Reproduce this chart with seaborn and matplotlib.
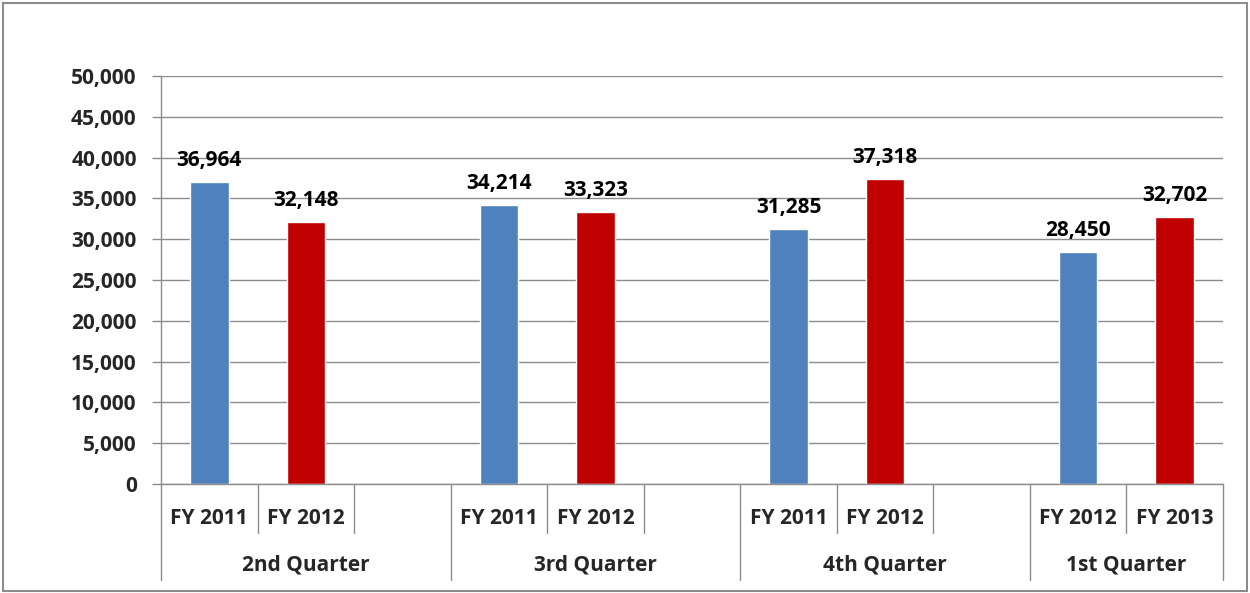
import matplotlib
matplotlib.use("Agg")
import matplotlib.pyplot as plt
import pandas as pd
import seaborn as sns
from matplotlib.patches import Rectangle

quarters = ["2nd Quarter", "3rd Quarter", "4th Quarter", "1st Quarter"]
years_prev = ["FY 2011", "FY 2011", "FY 2011", "FY 2012"]
years_curr = ["FY 2012", "FY 2012", "FY 2012", "FY 2013"]
values_prev = [36964, 34214, 31285, 28450]
values_curr = [32148, 33323, 37318, 32702]

BLUE = "#4F81BD"
RED = "#C00000"
GRID = "#8C8C8C"
FS = 15

# one slot per bar, plus an empty slot after each quarter except the last
order = []
rows = []
for i, q in enumerate(quarters):
    order += [f"{q}|{years_prev[i]}", f"{q}|{years_curr[i]}"]
    rows.append({"slot": order[-2], "value": values_prev[i], "series": "prev"})
    rows.append({"slot": order[-1], "value": values_curr[i], "series": "curr"})
    if i < len(quarters) - 1:
        order.append(f"{q}|gap")
df = pd.DataFrame(rows)

sns.set_style("white")
plt.rcParams["font.family"] = ["Open Sans", "DejaVu Sans"]
plt.rcParams["font.weight"] = "bold"

fig = plt.figure(figsize=(12.5, 5.93), dpi=100)
ax = fig.add_axes([161 / 1250, 1 - 484 / 593, 1062 / 1250, 408 / 593])

sns.barplot(data=df, x="slot", y="value", hue="series", order=order,
            palette={"prev": BLUE, "curr": RED}, dodge=False, width=0.4,
            legend=False, ax=ax, saturation=1)

for c in ax.containers:
    ax.bar_label(c, labels=[f"{v:,.0f}" for v in c.datavalues], padding=8,
                 fontsize=FS, fontweight="bold", color="black")

ax.set_xlim(-0.5, len(order) - 0.5)
ax.set_ylim(0, 50000)
ax.set_yticks(range(0, 50001, 5000))
ax.set_yticklabels([f"{v:,}" for v in range(0, 50001, 5000)], fontsize=FS,
                   fontweight="bold")
ax.yaxis.grid(True, color=GRID, linewidth=1)
ax.set_axisbelow(True)
ax.tick_params(axis="y", length=6.5, width=1, color=GRID, direction="out",
               pad=11, left=True)
ax.set_xticks([])
ax.set_xlabel("")
ax.set_ylabel("")
for s in ["top", "right"]:
    ax.spines[s].set_visible(False)
for s in ["left", "bottom"]:
    ax.spines[s].set_color(GRID)
    ax.spines[s].set_linewidth(1)

# two-level category axis drawn below the plot
tr = ax.get_xaxis_transform()
short_y = -(533 - 484) / 408
long_y = -(580 - 484) / 408
sub_y = -(518 - 484) / 408
grp_y = -(565 - 484) / 408
pos = 0
for i, q in enumerate(quarters):
    n = 3 if i < len(quarters) - 1 else 2
    start = pos - 0.5
    ax.plot([start, start], [0, long_y], transform=tr, color=GRID, lw=1, clip_on=False)
    ax.text(pos, sub_y, years_prev[i], transform=tr, ha="center", va="center",
            fontsize=FS, fontweight="bold")
    ax.text(pos + 1, sub_y, years_curr[i], transform=tr, ha="center", va="center",
            fontsize=FS, fontweight="bold")
    for k in range(1, n):
        ax.plot([start + k, start + k], [0, short_y], transform=tr, color=GRID,
                lw=1, clip_on=False)
    ax.text(start + n / 2, grp_y, q, transform=tr, ha="center", va="center",
            fontsize=FS, fontweight="bold")
    pos += n
end = pos - 0.5
ax.plot([end, end], [0, long_y], transform=tr, color=GRID, lw=1, clip_on=False)

fig.patches.append(Rectangle((3 / 1250, 2 / 593), 1244 / 1250, 588 / 593,
                             transform=fig.transFigure, fill=False,
                             edgecolor="#8C8C8C", linewidth=1.5))

fig.savefig("out.png", dpi=100)
